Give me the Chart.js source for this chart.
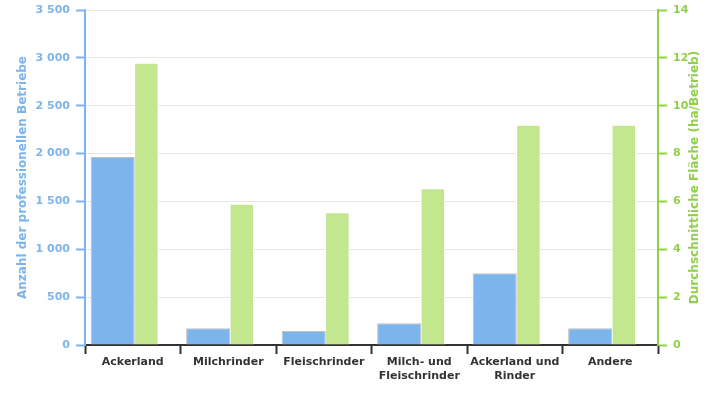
<!DOCTYPE html>
<html>
<head>
<meta charset="utf-8">
<script src="https://cdn.jsdelivr.net/npm/chart.js@4/dist/chart.umd.min.js"></script>
<style>
  body { margin: 0; background: #fff; }
  #wrap { width: 725px; height: 400px; }
</style>
</head>
<body>
<div id="wrap"><canvas id="farmChart" width="725" height="400"></canvas></div>
<script>
// categories and values
const categories = [
  'Ackerland',
  'Milchrinder',
  'Fleischrinder',
  ['Milch- und', 'Fleischrinder'],
  ['Ackerland und', 'Rinder'],
  'Andere'
];
const betriebe = [1965, 175, 146, 228, 750, 176];
const flaeche = [11.8, 5.9, 5.55, 6.55, 9.2, 9.2];

const leftTitle = 'Anzahl der professionellen Betriebe';
const rightTitle = 'Durchschnittliche Fläche (ha/Betrieb)';

const blue = '#7cb5ec';
const green = '#90d04b';
const font = 'DejaVu Sans';

// thousands with a space, like "3 500"
const fmt = (v) => String(v).replace(/\B(?=(\d{3})+(?!\d))/g, ' ');

// draw both axis titles reading bottom to top
const axisTitles = {
  id: 'axisTitles',
  afterDraw(chart) {
    const ctx = chart.ctx;
    const area = chart.chartArea;
    const midY = (area.top + area.bottom) / 2;
    ctx.save();
    ctx.font = 'bold 12px "' + font + '"';
    ctx.textAlign = 'center';
    ctx.textBaseline = 'middle';
    [[23, leftTitle, blue], [695, rightTitle, green]].forEach(([x, txt, col]) => {
      ctx.save();
      ctx.translate(x, midY);
      ctx.rotate(-Math.PI / 2);
      ctx.fillStyle = col;
      ctx.fillText(txt, 0, 0);
      ctx.restore();
    });
    ctx.restore();
  }
};

// fixed axis sizes so the plot sits where it does in the picture
const fitY = (w) => (scale) => {
  scale.width = w;
  scale.paddingTop = 10;
  scale.paddingBottom = 0;
};

const ctx = document.getElementById('farmChart').getContext('2d');
new Chart(ctx, {
  type: 'bar',
  data: {
    labels: categories,
    datasets: [
      {
        label: leftTitle,
        data: betriebe,
        yAxisID: 'yLeft',
        backgroundColor: blue,
        borderColor: '#c0c0c0',
        borderWidth: 1,
        categoryPercentage: 0.84,
        barPercentage: 1.1
      },
      {
        label: rightTitle,
        data: flaeche,
        yAxisID: 'yRight',
        backgroundColor: '#c2e78f',
        borderColor: '#ffffff',
        borderWidth: 1,
        categoryPercentage: 0.57,
        barPercentage: 0.9
      }
    ]
  },
  options: {
    responsive: false,
    animation: false,
    layout: { padding: 0 },
    plugins: {
      legend: { display: false },
      tooltip: { enabled: false }
    },
    scales: {
      x: {
        grid: {
          offset: true,
          drawOnChartArea: false,
          tickColor: '#333333',
          tickLength: 9,
          tickWidth: 2
        },
        border: { color: '#333333', width: 2 },
        ticks: {
          color: '#333333',
          font: { family: font, size: 11, weight: 'bold' },
          maxRotation: 0,
          padding: 2
        },
        afterFit(scale) { scale.height = 55; }
      },
      yLeft: {
        position: 'left',
        min: 0,
        max: 3500,
        ticks: {
          stepSize: 500,
          color: blue,
          padding: 6,
          font: { family: font, size: 11, weight: 'bold' },
          callback: (v) => fmt(v)
        },
        grid: {
          color: '#e6e6e6',
          tickColor: blue,
          tickLength: 9,
          tickWidth: 2
        },
        border: { color: blue, width: 2 },
        afterFit: fitY(85)
      },
      yRight: {
        position: 'right',
        min: 0,
        max: 14,
        ticks: {
          stepSize: 2,
          color: green,
          padding: 6,
          font: { family: font, size: 11, weight: 'bold' }
        },
        grid: {
          drawOnChartArea: false,
          tickColor: green,
          tickLength: 9,
          tickWidth: 2
        },
        border: { color: green, width: 2 },
        afterFit: fitY(67)
      }
    }
  },
  plugins: [axisTitles]
});
</script>
</body>
</html>
